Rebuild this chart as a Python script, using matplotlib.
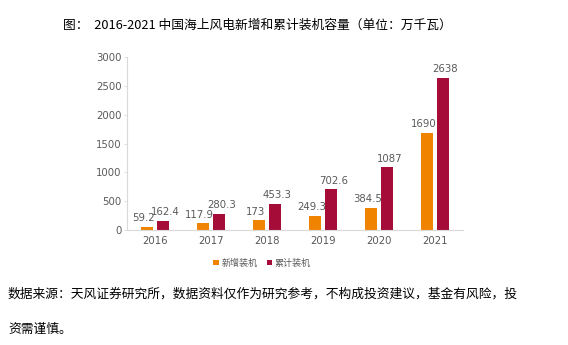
import matplotlib
matplotlib.use("Agg")
import matplotlib.pyplot as plt
import numpy as np

plt.rcParams['font.family'] = ['Noto Sans CJK SC', 'DejaVu Sans']

years = ["2016", "2017", "2018", "2019", "2020", "2021"]
new_install = [59.2, 117.9, 173, 249.3, 384.5, 1690]
cumulative = [162.4, 280.3, 453.3, 702.6, 1087, 2638]
new_labels = ["59.2", "117.9", "173", "249.3", "384.5", "1690"]
cum_labels = ["162.4", "280.3", "453.3", "702.6", "1087", "2638"]
yticks = [0, 500, 1000, 1500, 2000, 2500, 3000]

orange = "#F08300"
crimson = "#A50D38"
grey = "#595959"

W, H = 568, 345
fig = plt.figure(figsize=(W / 100, H / 100), dpi=100)
ax = fig.add_axes([127 / W, 1 - 230 / H, 336 / W, 173 / H])

x = np.arange(len(years))
bw = 0.22
off = 0.145
ax.bar(x - off, new_install, bw, color=orange, label="新增装机")
ax.bar(x + off, cumulative, bw, color=crimson, label="累计装机")

for xi, v, t in zip(x, new_install, new_labels):
    ax.text(xi - off - 0.06, v + 60, t, ha="center", va="bottom", fontsize=7.3, color=grey,
            family="DejaVu Sans")
for xi, v, t in zip(x, cumulative, cum_labels):
    ax.text(xi + off + 0.04, v + 60, t, ha="center", va="bottom", fontsize=7.3, color=grey,
            family="DejaVu Sans")

ax.set_xlim(-0.5, len(years) - 0.5)
ax.set_ylim(0, 3000)
ax.set_xticks(x)
ax.set_xticklabels(years, fontsize=7.3, color=grey, family="DejaVu Sans")
ax.set_yticks(yticks)
ax.set_yticklabels([str(v) for v in yticks], fontsize=7.3, color=grey, family="DejaVu Sans")
ax.tick_params(axis="x", length=0, pad=4)
ax.tick_params(axis="y", length=2, width=0.6, color="#D9D9D9", pad=2)
for s in ["top", "right"]:
    ax.spines[s].set_visible(False)
for s in ["left", "bottom"]:
    ax.spines[s].set_color("#D9D9D9")
    ax.spines[s].set_linewidth(0.8)

leg = fig.legend(loc="center", bbox_to_anchor=(262 / W, 1 - 263 / H), ncol=2, frameon=False,
                 fontsize=6.5, handlelength=0.6, handleheight=0.6, handletextpad=0.3,
                 columnspacing=1.0)
for t in leg.get_texts():
    t.set_color(grey)

fig.text(257 / W, 1 - 25 / H, "图：  2016-2021 中国海上风电新增和累计装机容量（单位：万千瓦）",
         ha="center", va="center", fontsize=9.2, color="black")
fig.text(8 / W, 1 - 294 / H,
         "数据来源：天风证券研究所，数据资料仅作为研究参考，不构成投资建议，基金有风险，投",
         ha="left", va="center", fontsize=9.2, color="black")
fig.text(8 / W, 1 - 329 / H, "资需谨慎。", ha="left", va="center", fontsize=9.2, color="black")

fig.savefig("out.png", dpi=100, facecolor="white")
